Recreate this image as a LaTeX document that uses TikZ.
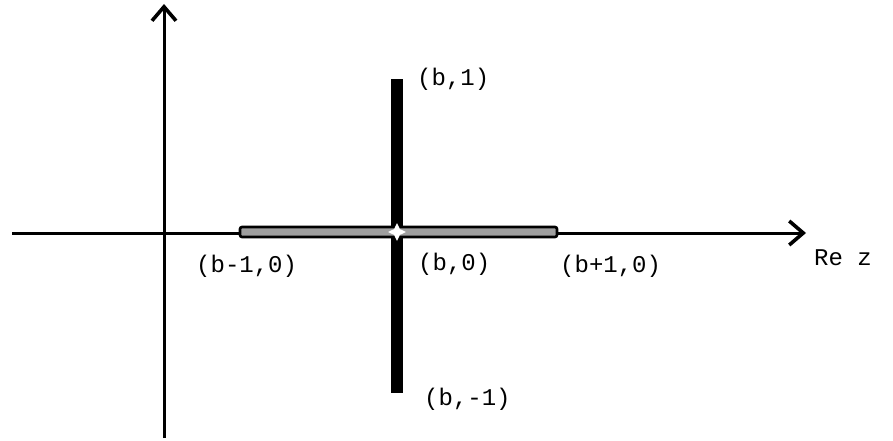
\documentclass[tikz,border=0pt]{standalone}
\usepackage{fontspec}
\setmonofont{Liberation Mono}
\usetikzlibrary{arrows.meta,shapes.geometric}
\tikzset{
  axis/.style={line width=3pt,-{Straight Barb[length=14pt,width=24pt,line width=3.6pt]}},
  lbl/.style={inner sep=0pt,anchor=west,font=\ttfamily\fontsize{24}{28}\selectfont},
  vbar/.style={fill=black,draw=black,line width=1pt},
  hbar/.style={fill=black!38,draw=black,line width=2.6pt,rounded corners=2pt}
}
\begin{document}
\begin{tikzpicture}[x=1pt,y=-1pt]
\useasboundingbox (0,0) rectangle (893,441);
% axes
\coordinate (vbot) at (164,438);
\coordinate (vtop) at (164,4);
\coordinate (hleft) at (12,233);
\coordinate (hright) at (806,233);
\draw[axis] (vbot) -- (vtop);
\draw[axis] (hleft) -- (hright);
% thick bars
\node[vbar,minimum width=11pt,minimum height=312pt,inner sep=0pt] (vb) at (397,236) {};
\node[hbar,minimum width=317pt,minimum height=10pt,inner sep=0pt] (hb) at (398.5,232) {};
\node[star,star points=4,star point ratio=2.2,fill=white,inner sep=0pt,minimum size=18pt] (ctr) at (397,232) {};
% labels
\node[lbl] (b1) at (417,79) {(b,1)};
\node[lbl] (bm10) at (196,266) {(b-1,0)};
\node[lbl] (b0) at (418,264) {(b,0)};
\node[lbl] (bp10) at (560,266) {(b+1,0)};
\node[lbl] (rez) at (814,258) {Re z};
\node[lbl] (bm1) at (424,399) {(b,-1)};
\end{tikzpicture}
\end{document}
